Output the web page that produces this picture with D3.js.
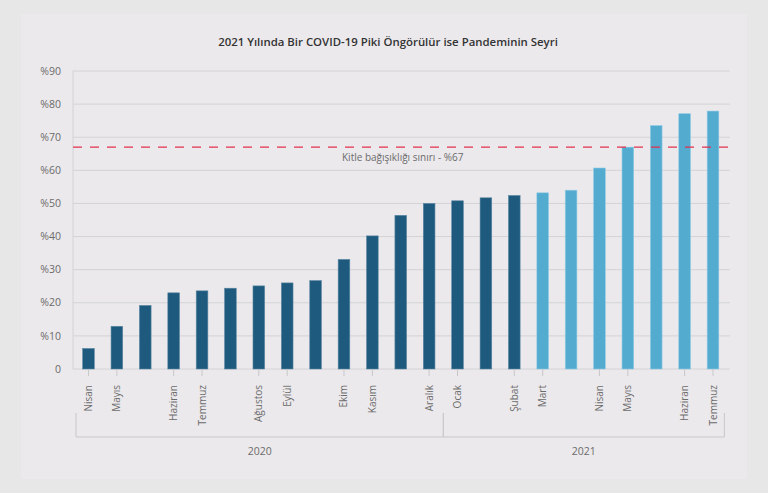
<!DOCTYPE html>
<html>
<head>
<meta charset="utf-8">
<script src="https://cdn.jsdelivr.net/npm/d3@7"></script>
<style>
  body { margin: 0; background: #e7e7e8; }
  svg { display: block; font-family: "Open Sans", sans-serif; }
</style>
</head>
<body>
<div id="chart"></div>
<script>
// Veriler
const labels = ["Nisan", "Mayıs", "", "Haziran", "Temmuz", "", "Ağustos", "Eylül", "", "Ekim", "Kasım", "", "Aralık",
  "Ocak", "", "Şubat", "Mart", "", "Nisan", "Mayıs", "", "Haziran", "Temmuz"];
const values = [6.2, 12.9, 19.2, 23.0, 23.6, 24.4, 25.1, 26.0, 26.7, 33.1, 40.2, 46.4, 50.0,
  50.8, 51.7, 52.4, 53.2, 54.0, 60.7, 67.0, 73.5, 77.1, 77.9];
const years = ["2020", "2020", "2020", "2020", "2020", "2020", "2020", "2020", "2020", "2020", "2020", "2020", "2020",
  "2021", "2021", "2021", "2021", "2021", "2021", "2021", "2021", "2021", "2021"];
// sadece Mart'tan itibaren açık mavi (tahmin)
const projected = [0, 0, 0, 0, 0, 0, 0, 0, 0, 0, 0, 0, 0, 0, 0, 0, 1, 1, 1, 1, 1, 1, 1];
const yTicks = [0, 10, 20, 30, 40, 50, 60, 70, 80, 90];
const threshold = 67;
const thresholdLabel = "Kitle bağışıklığı sınırı - %67";
const title = "2021 Yılında Bir COVID-19 Piki Öngörülür ise Pandeminin Seyri";

const width = 768, height = 493;
const mLeft = 73, mRight = 730, mTop = 71, mBottom = 369;

const svg = d3.select("#chart").append("svg")
  .attr("width", width)
  .attr("height", height);

// iç panel
svg.append("rect")
  .attr("x", 21).attr("y", 14)
  .attr("width", 726).attr("height", 465)
  .attr("fill", "#ebe9ec");

svg.append("text")
  .attr("x", 388).attr("y", 46)
  .attr("text-anchor", "middle")
  .attr("font-size", 11.4)
  .attr("font-weight", 600)
  .attr("fill", "#333")
  .text(title);

const x = d3.scaleBand()
  .domain(d3.range(values.length))
  .range([74.3, 727.2])
  .paddingInner(0.59)
  .paddingOuter(0.295);

const y = d3.scaleLinear().domain([0, 90]).range([mBottom, mTop]);

// ızgara
svg.append("g")
  .selectAll("line")
  .data(yTicks)
  .join("line")
  .attr("x1", mLeft).attr("x2", mRight)
  .attr("y1", d => y(d)).attr("y2", d => y(d))
  .attr("stroke", "#d3d2d5")
  .attr("stroke-width", 1);

svg.append("line")
  .attr("x1", mLeft).attr("x2", mLeft)
  .attr("y1", mTop).attr("y2", mBottom)
  .attr("stroke", "#d3d2d5");

// y etiketleri
svg.append("g")
  .selectAll("text")
  .data(yTicks)
  .join("text")
  .attr("x", 61)
  .attr("y", d => y(d))
  .attr("dy", "0.35em")
  .attr("text-anchor", "end")
  .attr("font-size", 10.5)
  .attr("fill", "#6b6b6b")
  .text(d => d === 0 ? "0" : "%" + d);

// çubuklar
svg.append("g")
  .selectAll("rect")
  .data(values)
  .join("rect")
  .attr("x", (d, i) => x(i))
  .attr("y", d => y(d))
  .attr("width", x.bandwidth())
  .attr("height", d => y(0) - y(d))
  .attr("fill", (d, i) => projected[i] ? "#53abd0" : "#1d5a7d")
  .attr("stroke", (d, i) => projected[i] ? "#8ccae4" : "#5a86a2")
  .attr("stroke-width", 0.6);

// eşik çizgisi
svg.append("line")
  .attr("x1", mLeft).attr("x2", mRight)
  .attr("y1", y(threshold)).attr("y2", y(threshold))
  .attr("stroke", "#e2304e")
  .attr("stroke-width", 1.2)
  .attr("stroke-dasharray", "9,8");

svg.append("text")
  .attr("x", 342).attr("y", y(threshold) + 14)
  .attr("font-size", 10)
  .attr("fill", "#6b6b6b")
  .text(thresholdLabel);

// x tikleri ve etiketleri
const xg = svg.append("g");
labels.forEach((lab, i) => {
  if (!lab) return;
  const cx = x(i) + x.bandwidth() / 2;
  xg.append("line")
    .attr("x1", cx).attr("x2", cx)
    .attr("y1", mBottom).attr("y2", mBottom + 7)
    .attr("stroke", "#c8c7ca");
  xg.append("text")
    .attr("transform", `translate(${cx},${mBottom + 16}) rotate(-90)`)
    .attr("dy", "0.35em")
    .attr("text-anchor", "end")
    .attr("font-size", 10)
    .attr("fill", "#6b6b6b")
    .text(lab);
});

// yıl grupları
const yearNames = Array.from(new Set(years));
const step = x.step();
const bounds = yearNames.map(yr => {
  const idx = years.map((v, i) => v === yr ? i : -1).filter(i => i >= 0);
  return { yr, first: idx[0], last: idx[idx.length - 1] };
});
const edges = [];
bounds.forEach((b, k) => {
  const x0 = k === 0 ? x(b.first) + x.bandwidth() / 2 - step * 0.44 : x(b.first) + x.bandwidth() / 2 - step / 2;
  const x1 = k === bounds.length - 1 ? x(b.last) + x.bandwidth() / 2 + step * 0.4 : x(b.last) + x.bandwidth() / 2 + step / 2;
  edges.push({ yr: b.yr, x0, x1 });
});
const yg = svg.append("g").attr("stroke", "#c8c7ca").attr("fill", "none");
edges.forEach(e => {
  yg.append("path")
    .attr("d", `M${e.x0},413V437H${e.x1}V413`);
  svg.append("text")
    .attr("x", (e.x0 + e.x1) / 2)
    .attr("y", 455)
    .attr("text-anchor", "middle")
    .attr("font-size", 10.5)
    .attr("fill", "#6b6b6b")
    .text(e.yr);
});
</script>
</body>
</html>
